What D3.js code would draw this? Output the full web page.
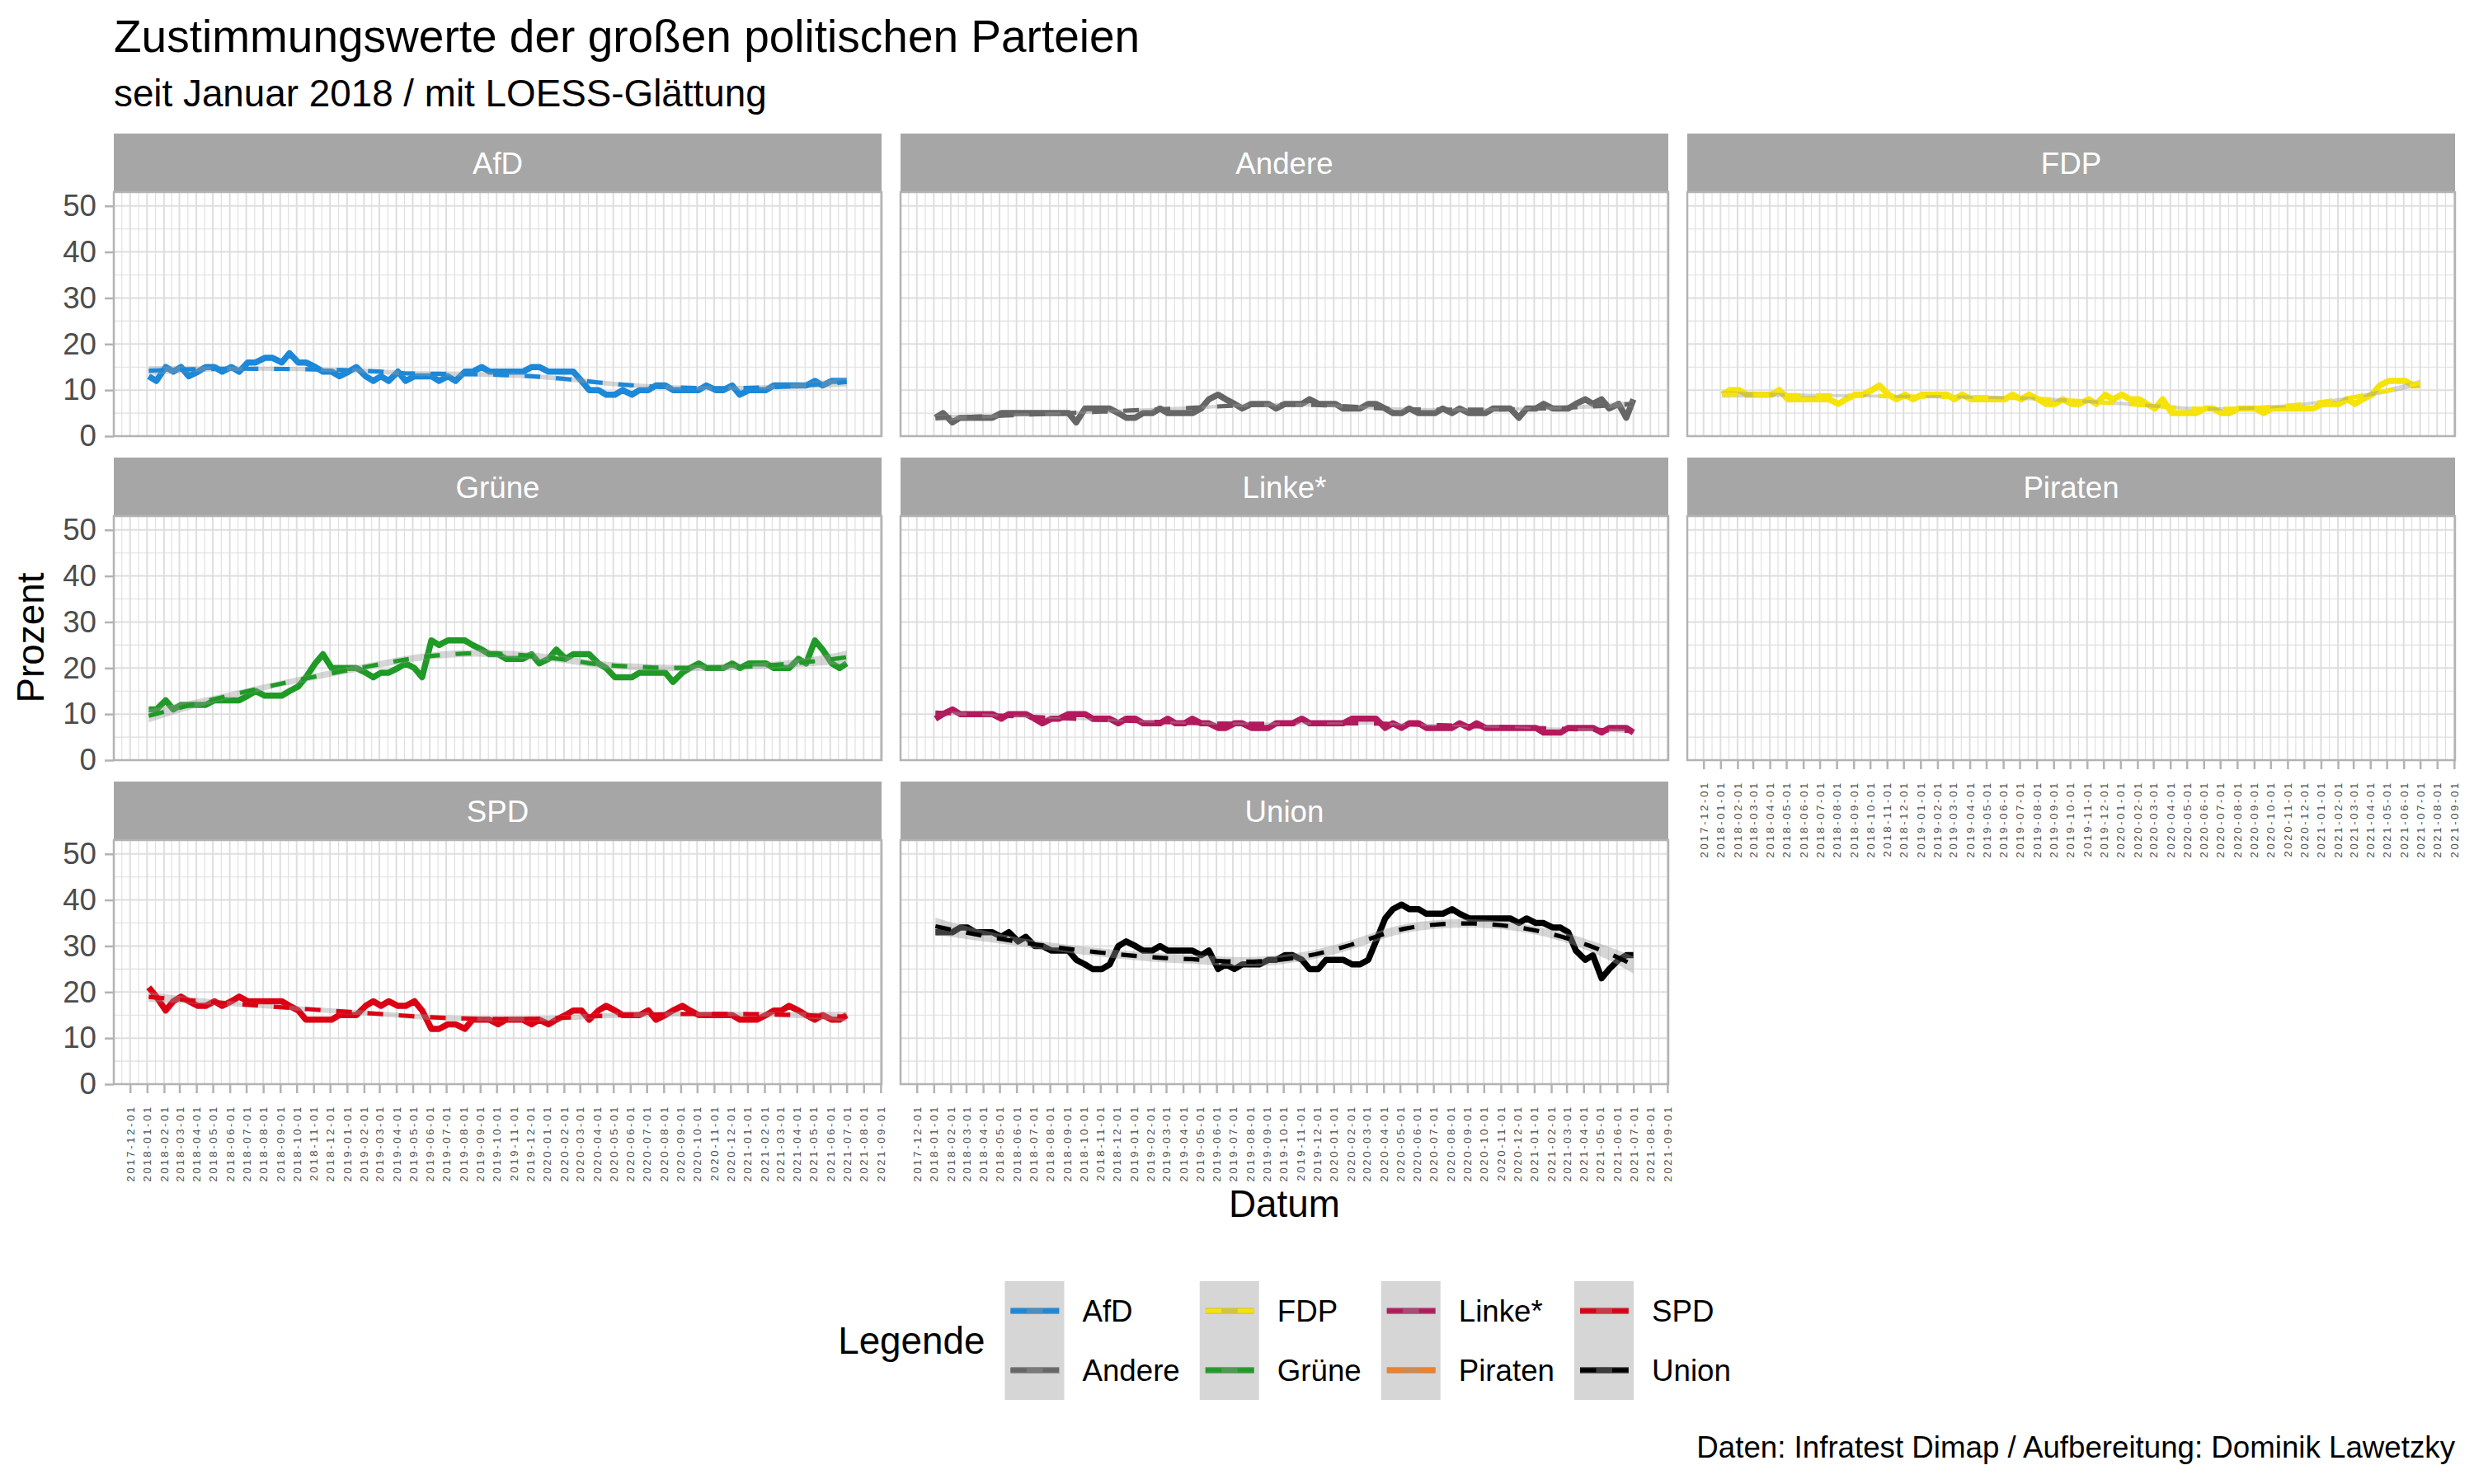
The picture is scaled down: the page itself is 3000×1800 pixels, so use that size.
<!DOCTYPE html>
<html>
<head>
<meta charset="utf-8">
<script src="https://cdn.jsdelivr.net/npm/d3@7"></script>
<style>
  body { margin: 0; background: #fff; }
  svg { display: block; font-family: "Liberation Sans", Arial, sans-serif; }
</style>
</head>
<body>
<div id="chart"></div>
<script>
// poll dates (two per month)
var pollDates = [
  "2018-01-04","2018-01-18","2018-02-04","2018-02-18","2018-03-04","2018-03-18","2018-04-04","2018-04-18",
  "2018-05-04","2018-05-18","2018-06-04","2018-06-18","2018-07-04","2018-07-18","2018-08-04","2018-08-18",
  "2018-09-04","2018-09-18","2018-10-04","2018-10-18","2018-11-04","2018-11-18","2018-12-04","2018-12-18",
  "2019-01-04","2019-01-18","2019-02-04","2019-02-18","2019-03-04","2019-03-18","2019-04-04","2019-04-18",
  "2019-05-04","2019-05-18","2019-06-04","2019-06-18","2019-07-04","2019-07-18","2019-08-04","2019-08-18",
  "2019-09-04","2019-09-18","2019-10-04","2019-10-18","2019-11-04","2019-11-18","2019-12-04","2019-12-18",
  "2020-01-04","2020-01-18","2020-02-04","2020-02-18","2020-03-04","2020-03-18","2020-04-04","2020-04-18",
  "2020-05-04","2020-05-18","2020-06-04","2020-06-18","2020-07-04","2020-07-18","2020-08-04","2020-08-18",
  "2020-09-04","2020-09-18","2020-10-04","2020-10-18","2020-11-04","2020-11-18","2020-12-04","2020-12-18",
  "2021-01-04","2021-01-18","2021-02-04","2021-02-18","2021-03-04","2021-03-18","2021-04-04","2021-04-18",
  "2021-05-04","2021-05-18","2021-06-04","2021-06-18","2021-07-01"
];

var afd = [13,12,15,14,15,13,14,15,15,14, 15,14,16,16,17,17,16,18,16,16, 15,14,14,13,14,15,13,12,13,12,
           14,12,13,13,13,12,13,12,14,14, 15,14,14,14,14,14,15,15,14,14, 14,14,12,10,10,9,9,10,9,10,
           10,11,11,10,10,10,10,11,10,10, 11,9,10,10,10,11,11,11,11,11, 12,11,12,12,12];
var andere = [4,5,3,4,4,4,4,4,5,5, 5,5,5,5,5,5,5,3,6,6, 6,6,5,4,4,5,5,6,5,5,
              5,5,6,8,9,8,7,6,7,7, 7,6,7,7,7,8,7,7,7,6, 6,6,7,7,6,5,5,6,5,5,
              5,6,5,6,5,5,5,6,6,6, 4,6,6,7,6,6,6,7,8,7, 8,6,7,4,8];
var fdp = [9,10,10,9,9,9,9,10,8,8, 8,8,8,8,7,8,9,9,10,11, 9,8,9,8,9,9,9,9,8,9,
           8,8,8,8,8,9,8,9,8,7, 7,8,7,7,8,7,9,8,9,8, 8,7,6,8,5,5,5,5,6,6,
           5,5,6,6,6,5,6,6,6,6, 6,6,7,7,7,8,7,8,9,11, 12,12,12,11,11];
var gruene = [11,11,13,11,12,12,12,12,13,13, 13,13,14,15,14,14,14,15,16,18, 21,23,20,20,20,20,19,18,19,19,
              20,21,20,18,26,25,26,26,26,25, 24,23,23,22,22,22,23,21,22,24, 22,23,23,23,21,20,18,18,18,19,
              19,19,19,17,19,20,21,20,20,20, 21,20,21,21,21,20,20,20,22,21, 26,24,21,20,21];
var linke = [9,10,11,10,10,10,10,10,9,10, 10,10,9,8,9,9,10,10,10,9, 9,9,8,9,9,8,8,8,9,8,
             8,9,8,8,7,7,8,8,7,7, 7,8,8,8,9,8,8,8,8,8, 9,9,9,9,7,8,7,8,8,7,
             7,7,7,8,7,8,7,7,7,7, 7,7,7,6,6,6,7,7,7,7, 6,7,7,7,6];
var piraten = [];
var spd = [21,19,16,18,19,18,17,17,18,17, 18,19,18,18,18,18,18,17,16,14, 14,14,14,15,15,15,17,18,17,18,
           17,17,18,16,12,12,13,13,12,14, 14,14,13,14,14,14,13,14,13,14, 15,16,16,14,16,17,16,15,15,15,
           16,14,15,16,17,16,15,15,15,15, 15,14,14,14,15,16,16,17,16,15, 14,15,14,14,15];
var union = [33,33,33,34,34,33,33,33,32,33, 31,32,30,30,29,29,29,27,26,25, 25,26,30,31,30,29,29,30,29,29,
             29,29,28,29,25,26,25,26,26,26, 27,27,28,28,27,25,25,27,27,27, 26,26,27,31,36,38,39,38,38,37,
             37,37,38,37,36,36,36,36,36,36, 35,36,35,35,34,34,33,29,27,28, 23,25,27,28,28];

var parties = ["AfD", "Andere", "FDP", "Grüne", "Linke*", "Piraten", "SPD", "Union"];
var partyValues = [afd, andere, fdp, gruene, linke, piraten, spd, union];
var partyColors = ["#1b88d9", "#666666", "#f6e30b", "#1f9a27", "#b3195d", "#ef8026", "#dc0015", "#000000"];
var yTicks = [0, 10, 20, 30, 40, 50];
var yMinor = [5, 15, 25, 35, 45];

var W = 3000, H = 1800;
var colX = [138, 1092, 2046], panelW = 931;
var stripTop = [162, 555, 948], stripH = 71, panelH = 296;
var baseFont = 45.8, smallFont = 36.7;

var svg = d3.select("#chart").append("svg").attr("width", W).attr("height", H);
svg.append("rect").attr("width", W).attr("height", H).attr("fill", "#fff");

var parseDate = d3.utcParse("%Y-%m-%d");
var t = pollDates.map(parseDate);
var t0 = d3.min(t), t1 = d3.max(t);
var pad = (t1 - t0) * 0.05;
var x = d3.scaleUtc().domain([new Date(+t0 - pad), new Date(+t1 + pad)]).range([0, panelW]);
var y = d3.scaleLinear().domain([0, 53]).range([panelH, 0]);

var majorX = x.ticks(d3.utcMonth.every(1));
var allMonths = d3.utcMonth.range(d3.utcMonth.floor(x.domain()[0]), d3.utcMonth.offset(x.domain()[1], 1));
var minorX = d3.pairs(allMonths).map(function (p) { return new Date((+p[0] + +p[1]) / 2); })
  .filter(function (d) { return d >= x.domain()[0] && d <= x.domain()[1]; });

// ---- loess (degree 2, tricube, span .75) like geom_smooth ----
var yearMs = 365.25 * 864e5;
function inv3row0(m) {
  var a = m[0][0], b = m[0][1], c = m[0][2], d = m[1][0], e = m[1][1], f = m[1][2], g = m[2][0], h = m[2][1], i = m[2][2];
  var A = e * i - f * h, B = -(d * i - f * g), C = d * h - e * g;
  var det = a * A + b * B + c * C;
  return [A / det, -(b * i - c * h) / det, (b * f - c * e) / det];
}
function loessFit(xs, ys, span, grid) {
  var n = xs.length, q = Math.floor(n * span);
  function kernel(x0) {
    var dist = xs.map(function (v) { return Math.abs(v - x0); });
    var h = dist.slice().sort(function (a, b) { return a - b; })[q - 1] * 1.000001;
    var w = dist.map(function (v) { var u = v / h; return u < 1 ? Math.pow(1 - u * u * u, 3) : 0; });
    var S = [[0, 0, 0], [0, 0, 0], [0, 0, 0]];
    xs.forEach(function (v, k) {
      var dx = v - x0, bv = [1, dx, dx * dx];
      for (var a = 0; a < 3; a++) for (var c = 0; c < 3; c++) S[a][c] += w[k] * bv[a] * bv[c];
    });
    var r = inv3row0(S);
    return xs.map(function (v, k) { var dx = v - x0; return w[k] * (r[0] + r[1] * dx + r[2] * dx * dx); });
  }
  var L = xs.map(kernel);
  var yhat = L.map(function (l) { return d3.sum(l, function (li, k) { return li * ys[k]; }); });
  var rss = d3.sum(ys, function (v, k) { return (v - yhat[k]) * (v - yhat[k]); });
  var delta = 0;
  for (var i = 0; i < n; i++) for (var j = 0; j < n; j++) {
    var mm = (i === j ? 1 : 0) - L[i][j]; delta += mm * mm;
  }
  var sigma = Math.sqrt(rss / delta);
  return grid.map(function (x0) {
    var l = kernel(x0);
    var fit = d3.sum(l, function (li, k) { return li * ys[k]; });
    var se = sigma * Math.sqrt(d3.sum(l, function (li) { return li * li; }));
    return { date: new Date(+t0 + x0 * yearMs), fit: fit, lo: fit - 1.99 * se, hi: fit + 1.99 * se };
  });
}

var xsYears = t.map(function (d) { return (d - t0) / yearMs; });
var span = (t1 - t0) / yearMs;
var evalGrid = d3.range(80).map(function (k) { return span * k / 79; });

var line = d3.line().x(function (d) { return x(d.date); }).y(function (d) { return y(d.value); });
var smoothLine = d3.line().x(function (d) { return x(d.date); }).y(function (d) { return y(d.fit); });
var ribbon = d3.area().x(function (d) { return x(d.date); }).y0(function (d) { return y(d.lo); }).y1(function (d) { return y(d.hi); });

parties.forEach(function (name, idx) {
  var r = Math.floor(idx / 3), c = idx % 3;
  var values = partyValues[idx], color = partyColors[idx];
  var showX = (idx === 5 || idx === 6 || idx === 7);
  var showY = (c === 0);

  var g = svg.append("g").attr("transform", "translate(" + colX[c] + "," + stripTop[r] + ")");
  g.append("rect").attr("width", panelW).attr("height", stripH).attr("fill", "#a6a6a6");
  g.append("text").attr("x", panelW / 2).attr("y", stripH / 2).attr("dy", "0.36em")
    .attr("text-anchor", "middle").attr("fill", "#fff").style("font-size", smallFont + "px").text(name);

  var p = g.append("g").attr("transform", "translate(0," + stripH + ")");
  p.append("clipPath").attr("id", "clip" + idx).append("rect").attr("width", panelW).attr("height", panelH);

  // grid
  p.selectAll(".gxm").data(minorX).enter().append("line")
    .attr("x1", function (d) { return x(d); }).attr("x2", function (d) { return x(d); })
    .attr("y1", 0).attr("y2", panelH).attr("stroke", "#dedede").attr("stroke-width", 1.1);
  p.selectAll(".gym").data(yMinor).enter().append("line")
    .attr("x1", 0).attr("x2", panelW).attr("y1", function (d) { return y(d); }).attr("y2", function (d) { return y(d); })
    .attr("stroke", "#dedede").attr("stroke-width", 1.1);
  p.selectAll(".gx").data(majorX).enter().append("line")
    .attr("x1", function (d) { return x(d); }).attr("x2", function (d) { return x(d); })
    .attr("y1", 0).attr("y2", panelH).attr("stroke", "#dedede").attr("stroke-width", 2);
  p.selectAll(".gy").data(yTicks).enter().append("line")
    .attr("x1", 0).attr("x2", panelW).attr("y1", function (d) { return y(d); }).attr("y2", function (d) { return y(d); })
    .attr("stroke", "#dedede").attr("stroke-width", 2);

  var plot = p.append("g").attr("clip-path", "url(#clip" + idx + ")");
  if (values.length) {
    var pts = values.map(function (v, k) { return { date: t[k], value: v }; });
    plot.append("path").datum(pts).attr("d", line).attr("fill", "none")
      .attr("stroke", color).attr("stroke-width", 7.5).attr("stroke-linejoin", "round");
    var sm = loessFit(xsYears, values, 0.75, evalGrid);
    plot.append("path").datum(sm).attr("d", ribbon).attr("fill", "#999999").attr("fill-opacity", 0.4);
    plot.append("path").datum(sm).attr("d", smoothLine).attr("fill", "none")
      .attr("stroke", color).attr("stroke-width", 5.2).attr("stroke-dasharray", "19 19");
  }

  p.append("rect").attr("width", panelW).attr("height", panelH).attr("fill", "none")
    .attr("stroke", "#b3b3b3").attr("stroke-width", 2.5);

  if (showY) {
    var ya = p.append("g").call(d3.axisLeft(y).tickValues(yTicks).tickSize(11).tickPadding(10));
    ya.select(".domain").remove();
    ya.selectAll("line").attr("stroke", "#b3b3b3").attr("stroke-width", 2.5);
    ya.selectAll("text").attr("fill", "#4d4d4d").style("font-size", smallFont + "px")
      .style("font-family", "Liberation Sans, Arial, sans-serif");
  }
  if (showX) {
    var xa = p.append("g").attr("transform", "translate(0," + panelH + ")")
      .call(d3.axisBottom(x).tickValues(majorX).tickSize(11).tickFormat(d3.utcFormat("%Y-%m-%d")));
    xa.select(".domain").remove();
    xa.selectAll("line").attr("stroke", "#b3b3b3").attr("stroke-width", 2.5);
    xa.selectAll("text")
      .attr("transform", "rotate(-90)").attr("x", -25).attr("y", 0).attr("dy", "0.35em")
      .style("text-anchor", "end").attr("fill", "#4d4d4d")
      .style("font-size", "13px").style("letter-spacing", "2.7px")
      .style("font-family", "Liberation Sans, Arial, sans-serif");
  }
});

// titles
svg.append("text").attr("x", 138).attr("y", 63).style("font-size", "55px").attr("fill", "#000")
  .text("Zustimmungswerte der großen politischen Parteien");
svg.append("text").attr("x", 138).attr("y", 129).style("font-size", baseFont + "px").attr("fill", "#000")
  .text("seit Januar 2018 / mit LOESS-Glättung");
svg.append("text").attr("transform", "translate(53,773.5) rotate(-90)").attr("text-anchor", "middle")
  .style("font-size", baseFont + "px").text("Prozent");
svg.append("text").attr("x", (colX[0] + colX[2] + panelW) / 2).attr("y", 1476).attr("text-anchor", "middle")
  .style("font-size", baseFont + "px").text("Datum");
svg.append("text").attr("x", 2977).attr("y", 1768).attr("text-anchor", "end")
  .style("font-size", smallFont + "px").text("Daten: Infratest Dimap / Aufbereitung: Dominik Lawetzky");

// legend
var keyW = 72, keyH = 72, legTop = 1554;
var leg = svg.append("g");
var legTitle = leg.append("text").attr("y", legTop + keyH).attr("dy", "0.36em")
  .style("font-size", baseFont + "px").text("Legende");
var titleW = legTitle.node().getComputedTextLength();
var cols = [];
for (var ci = 0; ci < 4; ci++) cols.push([ci * 2, ci * 2 + 1]);
var labelW = parties.map(function (nm) {
  var tmp = leg.append("text").style("font-size", smallFont + "px").text(nm);
  var w = tmp.node().getComputedTextLength(); tmp.remove(); return w;
});
var colWidths = cols.map(function (cc) { return keyW + 22 + Math.max(labelW[cc[0]], labelW[cc[1]]); });
var totalW = titleW + 24 + d3.sum(colWidths) + 24 * 3;
var legX = (colX[0] + colX[2] + panelW) / 2 - totalW / 2;
legTitle.attr("x", legX);
var cx = legX + titleW + 24;
cols.forEach(function (cc, k) {
  cc.forEach(function (pi, row) {
    var ky = legTop + row * keyH;
    var kg = leg.append("g").attr("transform", "translate(" + cx + "," + ky + ")");
    kg.append("rect").attr("width", keyW).attr("height", keyH).attr("fill", "#fff");
    kg.append("line").attr("x1", 7).attr("x2", 66).attr("y1", keyH / 2).attr("y2", keyH / 2)
      .attr("stroke", partyColors[pi]).attr("stroke-width", 7.5);
    kg.append("rect").attr("width", keyW).attr("height", keyH).attr("fill", "#999999").attr("fill-opacity", 0.4);
    kg.append("line").attr("x1", 7).attr("x2", 66).attr("y1", keyH / 2).attr("y2", keyH / 2)
      .attr("stroke", partyColors[pi]).attr("stroke-width", 5.2).attr("stroke-dasharray", "19.5 19.5");
    kg.append("text").attr("x", keyW + 22).attr("y", keyH / 2).attr("dy", "0.36em")
      .style("font-size", smallFont + "px").text(parties[pi]);
  });
  cx += colWidths[k] + 24;
});
</script>
</body>
</html>
